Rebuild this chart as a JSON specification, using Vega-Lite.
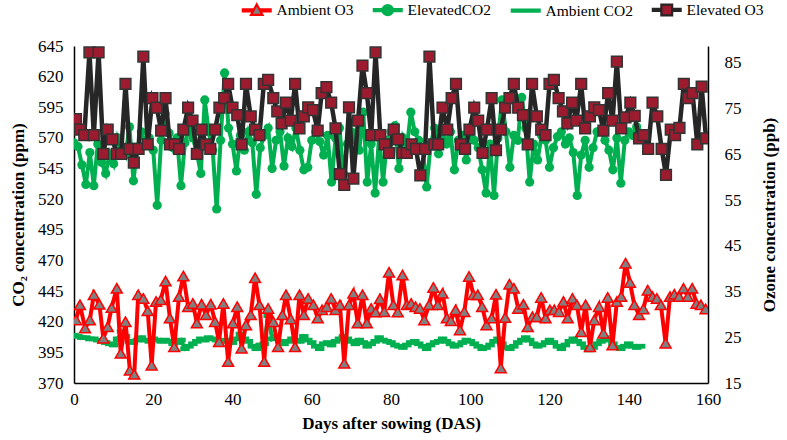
{
 "width": 634, "height": 337,
 "autosize": "none",
 "padding": {"left": 74, "top": 46, "right": 79, "bottom": 57},
 "background": "white",
 "config": {
  "view": {"stroke": null},
  "axis": {"grid": false, "ticks": false, "domainColor": "black", "domainWidth": 1.5, "labelFontSize": 17, "labelColor": "black", "titleFontSize": 17, "titleFontWeight": "bold", "titleColor": "black"}
 },
 "datasets": {
  "eco2": [
   {"d":0,"v":566},{"d":1,"v":563},{"d":2,"v":548},{"d":3,"v":532},{"d":4,"v":558},{"d":5,"v":531},{"d":6,"v":565},{"d":7,"v":550},{"d":8,"v":541},{"d":9,"v":557},
   {"d":10,"v":549},{"d":11,"v":570},{"d":12,"v":562},{"d":13,"v":556},{"d":14,"v":579},{"d":15,"v":535},{"d":16,"v":562},{"d":17,"v":575},{"d":18,"v":565},{"d":19,"v":570},
   {"d":20,"v":560},{"d":21,"v":515},{"d":22,"v":568},{"d":23,"v":590},{"d":24,"v":574},{"d":25,"v":562},{"d":26,"v":570},{"d":27,"v":531},{"d":28,"v":566},{"d":29,"v":578},
   {"d":30,"v":570},{"d":31,"v":558},{"d":32,"v":541},{"d":33,"v":601},{"d":34,"v":575},{"d":35,"v":560},{"d":36,"v":512},{"d":37,"v":568},{"d":38,"v":623},{"d":39,"v":578},
   {"d":40,"v":565},{"d":41,"v":543},{"d":42,"v":572},{"d":43,"v":560},{"d":44,"v":575},{"d":45,"v":566},{"d":46,"v":524},{"d":47,"v":562},{"d":48,"v":572},{"d":49,"v":578},
   {"d":50,"v":545},{"d":51,"v":568},{"d":52,"v":575},{"d":53,"v":547},{"d":54,"v":570},{"d":55,"v":563},{"d":56,"v":578},{"d":57,"v":560},{"d":58,"v":544},{"d":59,"v":546},
   {"d":60,"v":568},{"d":61,"v":575},{"d":62,"v":567},{"d":63,"v":556},{"d":64,"v":572},{"d":65,"v":534},{"d":66,"v":570},{"d":67,"v":578},{"d":68,"v":541},{"d":69,"v":565},
   {"d":70,"v":575},{"d":71,"v":568},{"d":72,"v":560},{"d":73,"v":591},{"d":74,"v":534},{"d":75,"v":565},{"d":76,"v":525},{"d":77,"v":572},{"d":78,"v":534},{"d":79,"v":568},
   {"d":80,"v":575},{"d":81,"v":580},{"d":82,"v":545},{"d":83,"v":570},{"d":84,"v":562},{"d":85,"v":591},{"d":86,"v":575},{"d":87,"v":568},{"d":88,"v":560},{"d":89,"v":530},
   {"d":90,"v":565},{"d":91,"v":578},{"d":92,"v":557},{"d":93,"v":570},{"d":94,"v":565},{"d":95,"v":575},{"d":96,"v":544},{"d":97,"v":568},{"d":98,"v":572},{"d":99,"v":552},
   {"d":100,"v":578},{"d":101,"v":568},{"d":102,"v":562},{"d":103,"v":544},{"d":104,"v":525},{"d":105,"v":565},{"d":106,"v":523},{"d":107,"v":570},{"d":108,"v":601},{"d":109,"v":575},
   {"d":110,"v":546},{"d":111,"v":572},{"d":112,"v":568},{"d":113,"v":603},{"d":114,"v":578},{"d":115,"v":534},{"d":116,"v":565},{"d":117,"v":552},{"d":118,"v":572},{"d":119,"v":568},
   {"d":120,"v":546},{"d":121,"v":562},{"d":122,"v":571},{"d":123,"v":575},{"d":124,"v":565},{"d":125,"v":570},{"d":126,"v":558},{"d":127,"v":523},{"d":128,"v":556},{"d":129,"v":568},
   {"d":130,"v":546},{"d":131,"v":562},{"d":132,"v":575},{"d":133,"v":576},{"d":134,"v":568},{"d":135,"v":560},{"d":136,"v":544},{"d":137,"v":570},{"d":138,"v":533},{"d":139,"v":568},
   {"d":140,"v":575},{"d":141,"v":572},{"d":142,"v":579}
  ],
  "aco2": [
   {"d":0,"v":409},{"d":1,"v":408},{"d":2,"v":407},{"d":3,"v":407},{"d":4,"v":406},{"d":5,"v":406},{"d":6,"v":405},{"d":7,"v":404},{"d":8,"v":403},{"d":9,"v":402},
   {"d":10,"v":401},{"d":11,"v":406},{"d":12,"v":412},{"d":13,"v":408},{"d":14,"v":404},{"d":15,"v":403},{"d":16,"v":405},{"d":17,"v":407},{"d":18,"v":405},{"d":19,"v":404},
   {"d":20,"v":406},{"d":21,"v":405},{"d":22,"v":404},{"d":23,"v":405},{"d":24,"v":404},{"d":25,"v":402},{"d":26,"v":403},{"d":27,"v":405},{"d":28,"v":398},{"d":29,"v":400},
   {"d":30,"v":402},{"d":31,"v":404},{"d":32,"v":406},{"d":33,"v":405},{"d":34,"v":407},{"d":35,"v":406},{"d":36,"v":405},{"d":37,"v":404},{"d":38,"v":405},{"d":39,"v":404},
   {"d":40,"v":403},{"d":41,"v":406},{"d":42,"v":410},{"d":43,"v":406},{"d":44,"v":404},{"d":45,"v":400},{"d":46,"v":398},{"d":47,"v":401},{"d":48,"v":402},{"d":49,"v":425},
   {"d":50,"v":406},{"d":51,"v":408},{"d":52,"v":404},{"d":53,"v":402},{"d":54,"v":404},{"d":55,"v":406},{"d":56,"v":405},{"d":57,"v":404},{"d":58,"v":408},{"d":59,"v":405},
   {"d":60,"v":403},{"d":61,"v":400},{"d":62,"v":398},{"d":63,"v":402},{"d":64,"v":403},{"d":65,"v":401},{"d":66,"v":404},{"d":67,"v":406},{"d":68,"v":408},{"d":69,"v":406},
   {"d":70,"v":404},{"d":71,"v":402},{"d":72,"v":405},{"d":73,"v":403},{"d":74,"v":400},{"d":75,"v":402},{"d":76,"v":404},{"d":77,"v":407},{"d":78,"v":405},{"d":79,"v":404},
   {"d":80,"v":403},{"d":81,"v":401},{"d":82,"v":400},{"d":83,"v":399},{"d":84,"v":401},{"d":85,"v":403},{"d":86,"v":404},{"d":87,"v":402},{"d":88,"v":400},{"d":89,"v":398},
   {"d":90,"v":401},{"d":91,"v":403},{"d":92,"v":404},{"d":93,"v":406},{"d":94,"v":404},{"d":95,"v":402},{"d":96,"v":400},{"d":97,"v":401},{"d":98,"v":403},{"d":99,"v":405},
   {"d":100,"v":404},{"d":101,"v":402},{"d":102,"v":400},{"d":103,"v":398},{"d":104,"v":399},{"d":105,"v":401},{"d":106,"v":404},{"d":107,"v":406},{"d":108,"v":402},{"d":109,"v":399},
   {"d":110,"v":398},{"d":111,"v":400},{"d":112,"v":403},{"d":113,"v":405},{"d":114,"v":407},{"d":115,"v":405},{"d":116,"v":402},{"d":117,"v":400},{"d":118,"v":401},{"d":119,"v":403},
   {"d":120,"v":405},{"d":121,"v":403},{"d":122,"v":400},{"d":123,"v":398},{"d":124,"v":401},{"d":125,"v":404},{"d":126,"v":406},{"d":127,"v":404},{"d":128,"v":402},{"d":129,"v":399},
   {"d":130,"v":397},{"d":131,"v":399},{"d":132,"v":402},{"d":133,"v":404},{"d":134,"v":407},{"d":135,"v":405},{"d":136,"v":402},{"d":137,"v":399},{"d":138,"v":398},{"d":139,"v":400},
   {"d":140,"v":402},{"d":141,"v":400},{"d":142,"v":399},{"d":143,"v":400}
  ],
  "ao3": [
   {"d":0.5,"v":28.8},{"d":1.5,"v":32.1},{"d":2.8,"v":27.0},{"d":4.0,"v":28.8},{"d":5.0,"v":34.3},{"d":6.4,"v":32.2},{"d":7.4,"v":24.8},{"d":8.5,"v":27.3},{"d":9.5,"v":31.5},{"d":10.8,"v":35.7},
   {"d":11.8,"v":21.5},{"d":13.0,"v":28.4},{"d":14.1,"v":17.8},{"d":15.2,"v":16.9},{"d":16.2,"v":34.3},{"d":17.5,"v":33.5},{"d":18.6,"v":30.8},{"d":19.6,"v":18.9},{"d":20.7,"v":32.8},{"d":21.9,"v":33.2},
   {"d":23.1,"v":37.3},{"d":24.2,"v":29.2},{"d":25.3,"v":22.9},{"d":26.5,"v":33.9},{"d":27.6,"v":38.4},{"d":28.8,"v":31.7},{"d":30.0,"v":32.4},{"d":31.0,"v":28.1},{"d":32.2,"v":32.2},{"d":33.3,"v":29.9},
   {"d":34.5,"v":32.2},{"d":35.6,"v":28.4},{"d":36.6,"v":24.0},{"d":37.7,"v":32.4},{"d":38.9,"v":19.7},{"d":40.1,"v":28.1},{"d":41.2,"v":31.7},{"d":42.3,"v":22.6},{"d":43.4,"v":27.7},{"d":44.6,"v":29.9},
   {"d":45.7,"v":38.0},{"d":46.8,"v":32.1},{"d":48.0,"v":19.7},{"d":49.0,"v":31.3},{"d":50.3,"v":28.4},{"d":51.5,"v":22.9},{"d":52.6,"v":29.9},{"d":53.5,"v":34.3},{"d":54.7,"v":29.0},{"d":55.8,"v":22.9},
   {"d":56.9,"v":34.3},{"d":58.0,"v":29.9},{"d":59.1,"v":33.5},{"d":60.4,"v":32.1},{"d":61.5,"v":29.2},{"d":62.6,"v":31.0},{"d":63.8,"v":31.7},{"d":64.9,"v":33.5},{"d":66.0,"v":31.0},{"d":67.1,"v":32.1},
   {"d":68.2,"v":19.3},{"d":69.4,"v":32.1},{"d":70.5,"v":34.6},{"d":71.6,"v":28.1},{"d":72.8,"v":34.3},{"d":73.9,"v":28.1},{"d":75.0,"v":31.3},{"d":76.1,"v":30.5},{"d":77.2,"v":33.4},{"d":78.3,"v":30.6},
   {"d":79.5,"v":39.2},{"d":80.6,"v":32.1},{"d":81.7,"v":30.5},{"d":82.9,"v":38.6},{"d":84.0,"v":32.1},{"d":85.1,"v":32.4},{"d":86.2,"v":31.7},{"d":87.3,"v":31.3},{"d":88.4,"v":28.8},{"d":89.6,"v":32.1},
   {"d":90.7,"v":35.9},{"d":91.8,"v":32.1},{"d":93.0,"v":34.6},{"d":94.1,"v":29.2},{"d":95.1,"v":28.6},{"d":96.3,"v":31.0},{"d":97.4,"v":26.6},{"d":98.5,"v":30.6},{"d":99.7,"v":38.3},{"d":100.8,"v":34.3},
   {"d":101.9,"v":34.3},{"d":103.0,"v":31.7},{"d":104.1,"v":27.7},{"d":105.4,"v":29.2},{"d":106.5,"v":34.4},{"d":107.7,"v":18.3},{"d":108.8,"v":29.3},{"d":109.9,"v":36.6},{"d":111.0,"v":35.7},{"d":112.1,"v":31.3},
   {"d":113.4,"v":32.2},{"d":114.5,"v":27.3},{"d":115.7,"v":29.5},{"d":116.8,"v":29.5},{"d":117.9,"v":33.7},{"d":119.0,"v":29.2},{"d":120.1,"v":31.0},{"d":121.2,"v":31.0},{"d":122.4,"v":30.6},{"d":123.5,"v":32.8},
   {"d":124.6,"v":29.2},{"d":125.8,"v":33.5},{"d":126.9,"v":32.1},{"d":128.0,"v":26.2},{"d":129.1,"v":32.1},{"d":130.2,"v":22.9},{"d":131.3,"v":28.8},{"d":132.5,"v":31.7},{"d":133.6,"v":25.9},{"d":134.7,"v":33.7},
   {"d":135.9,"v":23.3},{"d":137.0,"v":32.8},{"d":138.1,"v":33.9},{"d":139.2,"v":41.2},{"d":140.3,"v":37.0},{"d":141.4,"v":32.1},{"d":142.6,"v":29.9},{"d":143.7,"v":31.2},{"d":144.8,"v":35.3},{"d":146.0,"v":33.9},
   {"d":147.1,"v":33.5},{"d":148.1,"v":32.1},{"d":149.3,"v":23.7},{"d":150.4,"v":33.9},{"d":151.5,"v":34.4},{"d":152.7,"v":33.9},{"d":153.8,"v":35.7},{"d":154.9,"v":33.9},{"d":156.0,"v":35.7},{"d":157.1,"v":32.4},
   {"d":158.2,"v":32.1},{"d":159.4,"v":31.2}
  ],
  "eo3": [
   {"d":0.5,"v":72.7},{"d":1.5,"v":70.4},{"d":2.6,"v":69.2},{"d":3.9,"v":87.3},{"d":5.0,"v":69.2},{"d":6.2,"v":87.3},{"d":7.4,"v":65.1},{"d":8.5,"v":70.4},{"d":9.7,"v":68.3},{"d":10.8,"v":65.1},
   {"d":11.9,"v":65.1},{"d":13.0,"v":80.4},{"d":14.0,"v":66.2},{"d":15.1,"v":63.2},{"d":16.3,"v":66.2},{"d":17.5,"v":86.4},{"d":18.6,"v":67.2},{"d":19.8,"v":77.3},{"d":20.9,"v":75.2},{"d":22.0,"v":70.2},
   {"d":23.1,"v":77.3},{"d":24.2,"v":67.2},{"d":25.4,"v":67.2},{"d":26.5,"v":66.2},{"d":27.6,"v":70.4},{"d":28.8,"v":75.2},{"d":29.9,"v":72.4},{"d":31.0,"v":65.1},{"d":32.2,"v":70.4},{"d":33.3,"v":67.2},
   {"d":34.4,"v":66.2},{"d":35.6,"v":70.4},{"d":36.7,"v":75.2},{"d":37.9,"v":77.3},{"d":38.9,"v":80.4},{"d":40.0,"v":75.2},{"d":41.2,"v":73.6},{"d":42.3,"v":67.2},{"d":43.4,"v":80.4},{"d":44.6,"v":73.3},
   {"d":45.7,"v":70.4},{"d":46.8,"v":69.2},{"d":47.9,"v":80.4},{"d":49.0,"v":81.3},{"d":50.3,"v":77.3},{"d":51.3,"v":74.4},{"d":52.4,"v":71.8},{"d":53.5,"v":76.3},{"d":54.7,"v":72.4},{"d":55.8,"v":80.4},
   {"d":56.9,"v":70.7},{"d":58.0,"v":73.3},{"d":59.1,"v":75.3},{"d":60.3,"v":74.7},{"d":61.5,"v":70.2},{"d":62.5,"v":78.4},{"d":63.7,"v":79.7},{"d":64.9,"v":76.3},{"d":66.0,"v":70.7},{"d":67.1,"v":60.7},
   {"d":68.2,"v":58.3},{"d":69.4,"v":75.3},{"d":70.5,"v":59.7},{"d":71.7,"v":72.4},{"d":72.8,"v":84.4},{"d":73.9,"v":78.4},{"d":75.0,"v":69.2},{"d":76.1,"v":87.3},{"d":77.3,"v":69.2},{"d":78.4,"v":67.2},
   {"d":79.5,"v":65.3},{"d":80.7,"v":70.4},{"d":81.8,"v":68.3},{"d":82.9,"v":65.3},{"d":84.0,"v":65.3},{"d":85.2,"v":67.2},{"d":86.3,"v":66.2},{"d":87.4,"v":60.4},{"d":88.6,"v":66.2},{"d":89.7,"v":86.4},
   {"d":90.9,"v":67.2},{"d":91.9,"v":67.2},{"d":93.0,"v":75.2},{"d":94.2,"v":70.4},{"d":95.3,"v":77.3},{"d":96.4,"v":80.4},{"d":97.6,"v":67.2},{"d":98.7,"v":66.2},{"d":99.8,"v":70.4},{"d":101.0,"v":75.2},
   {"d":102.0,"v":72.4},{"d":103.1,"v":65.3},{"d":104.2,"v":70.4},{"d":105.4,"v":77.3},{"d":106.5,"v":65.9},{"d":107.7,"v":70.4},{"d":108.8,"v":75.2},{"d":109.9,"v":77.3},{"d":111.0,"v":80.4},{"d":112.1,"v":75.2},
   {"d":113.3,"v":73.6},{"d":114.5,"v":67.2},{"d":115.6,"v":80.4},{"d":116.8,"v":73.3},{"d":117.9,"v":70.4},{"d":119.0,"v":69.2},{"d":120.0,"v":80.4},{"d":121.1,"v":81.3},{"d":122.3,"v":77.3},{"d":123.4,"v":74.4},
   {"d":124.5,"v":71.8},{"d":125.7,"v":76.3},{"d":126.8,"v":72.4},{"d":128.0,"v":80.4},{"d":129.0,"v":70.7},{"d":130.2,"v":73.3},{"d":131.3,"v":75.3},{"d":132.5,"v":74.7},{"d":133.6,"v":70.2},{"d":134.8,"v":78.4},
   {"d":135.9,"v":72.4},{"d":137.0,"v":85.3},{"d":138.1,"v":70.7},{"d":139.2,"v":73.1},{"d":140.4,"v":76.3},{"d":141.5,"v":73.4},{"d":142.6,"v":68.5},{"d":143.7,"v":69.2},{"d":144.9,"v":66.2},{"d":146.0,"v":76.3},
   {"d":147.2,"v":73.3},{"d":148.3,"v":66.2},{"d":149.4,"v":60.5},{"d":150.6,"v":70.4},{"d":151.7,"v":69.2},{"d":152.8,"v":70.8},{"d":153.9,"v":80.4},{"d":155.0,"v":77.3},{"d":156.1,"v":78.4},{"d":157.3,"v":67.2},
   {"d":158.4,"v":79.8},{"d":159.5,"v":68.5}
  ]
 },
 "encoding": {
  "x": {"field": "d", "type": "quantitative", "scale": {"domain": [0, 160], "nice": false, "zero": false},
   "axis": {"values": [0, 20, 40, 60, 80, 100, 120, 140, 160], "title": "Days after sowing (DAS)", "labelFont": "Liberation Serif", "titleFont": "Liberation Serif", "labelFlush": false, "labelPadding": 8, "titlePadding": 8, "labelOverlap": false}}
 },
 "layer": [
  {
   "encoding": {
    "y": {"field": "v", "type": "quantitative", "scale": {"domain": [370, 645], "nice": false, "zero": false},
     "axis": {"orient": "left", "values": [370, 395, 420, 445, 470, 495, 520, 545, 570, 595, 620, 645], "title": "CO₂ concentration (ppm)", "labelFont": "Liberation Serif", "titleFont": "Liberation Serif", "labelPadding": 11, "titlePadding": 10, "labelOverlap": false}}
   },
   "layer": [
    {"data": {"name": "aco2"}, "mark": {"type": "line", "color": "#00B050", "strokeWidth": 4, "clip": true,
      "point": {"filled": true, "shape": "M-1,-0.5H1V0.5H-1Z", "size": 90, "color": "#00B050", "opacity": 1}}},
    {"data": {"name": "eco2"}, "mark": {"type": "line", "color": "#00B050", "strokeWidth": 4, "clip": true,
      "point": {"filled": true, "shape": "circle", "size": 85, "color": "#00B050", "opacity": 1}}}
   ]
  },
  {
   "encoding": {
    "y": {"field": "v", "type": "quantitative", "scale": {"domain": [15, 88.7], "nice": false, "zero": false},
     "axis": {"orient": "right", "values": [15, 25, 35, 45, 55, 65, 75, 85], "title": "Ozone concentration (ppb)", "labelFont": "Liberation Serif", "titleFont": "Liberation Serif", "titleAngle": 270, "titleBaseline": "top", "labelPadding": 16, "titlePadding": 20, "labelOverlap": false}}
   },
   "layer": [
    {"data": {"name": "ao3"}, "mark": {"type": "line", "color": "#FF0000", "strokeWidth": 4, "clip": true,
      "point": {"filled": true, "shape": "triangle-up", "size": 120, "fill": "#808080", "stroke": "#FF0000", "strokeWidth": 1.5, "opacity": 1}}},
    {"data": {"name": "eo3"}, "mark": {"type": "line", "color": "#262626", "strokeWidth": 4.5, "clip": true,
      "point": {"filled": true, "shape": "square", "size": 115, "fill": "#9C1B2E", "stroke": "#333333", "strokeWidth": 1.5, "opacity": 1}}},
    {"data": {"values": []},
     "mark": {"type": "point", "filled": true, "opacity": 1, "size": 144, "strokeWidth": 2},
     "encoding": {
      "stroke": {"field": "s", "type": "nominal",
       "scale": {"domain": ["Ambient O3", "ElevatedCO2", "Ambient CO2", "Elevated O3"], "range": ["#FF0000", "#00B050", "#00B050", "#262626"]},
       "legend": {"orient": "none", "legendX": 175, "legendY": -44, "direction": "horizontal", "title": null, "labelFont": "Liberation Serif", "labelFontSize": 15.5, "labelColor": "black", "labelOffset": 12, "columnPadding": 14, "symbolSize": 144, "symbolStrokeWidth": 2.2, "padding": 0}},
      "fill": {"field": "s", "type": "nominal",
       "scale": {"domain": ["Ambient O3", "ElevatedCO2", "Ambient CO2", "Elevated O3"], "range": ["#808080", "#00B050", "#00B050", "#9C1B2E"]},
       "legend": {"orient": "none", "legendX": 175, "legendY": -44, "direction": "horizontal", "title": null, "labelFont": "Liberation Serif", "labelFontSize": 15.5, "labelColor": "black", "labelOffset": 12, "columnPadding": 14, "symbolSize": 144, "symbolStrokeWidth": 2.2, "padding": 0}},
      "shape": {"field": "s", "type": "nominal",
       "scale": {"domain": ["Ambient O3", "ElevatedCO2", "Ambient CO2", "Elevated O3"],
        "range": [
         "M-2.5,-0.17H-0.55M-2.5,0.17H-0.55M0.55,-0.17H2.5M0.55,0.17H2.5M0,-1L0.95,0.75L-0.95,0.75Z",
         "M-2.5,-0.17H-0.85M-2.5,0.17H-0.85M0.85,-0.17H2.5M0.85,0.17H2.5M-0.85,0A0.85,0.85,0,1,0,0.85,0A0.85,0.85,0,1,0,-0.85,0Z",
         "M-2.5,-0.17H2.5M-2.5,0.17H2.5",
         "M-2.5,-0.17H-0.9M-2.5,0.17H-0.9M0.9,-0.17H2.5M0.9,0.17H2.5M-0.9,-0.9H0.9V0.9H-0.9Z"]},
       "legend": {"orient": "none", "legendX": 175, "legendY": -44, "direction": "horizontal", "title": null, "labelFont": "Liberation Serif", "labelFontSize": 15.5, "labelColor": "black", "labelOffset": 12, "columnPadding": 14, "symbolSize": 144, "symbolStrokeWidth": 2.2, "padding": 0}}
     }}
   ]
  }
 ],
 "resolve": {"scale": {"y": "independent"}}
}
